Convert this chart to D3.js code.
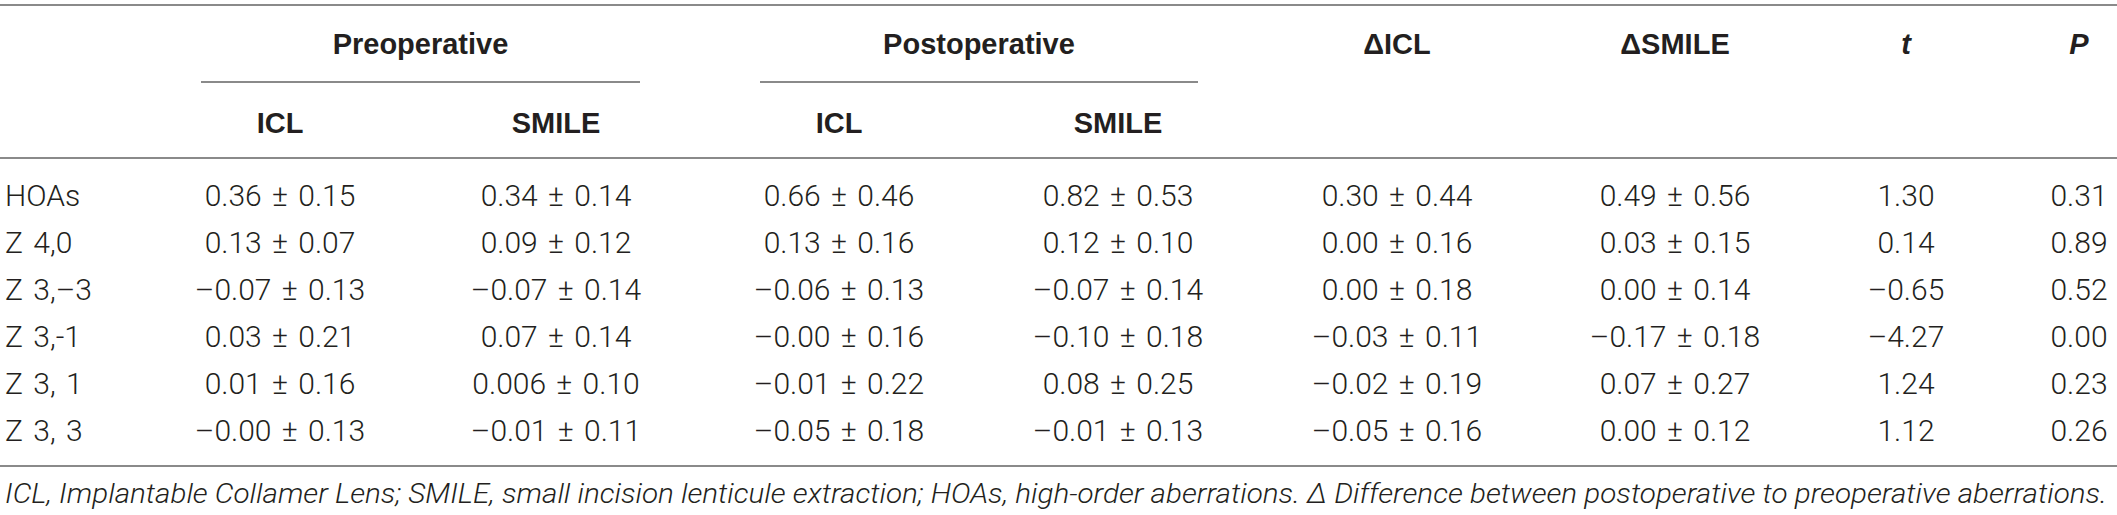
<!DOCTYPE html>
<html>
<head>
<meta charset="utf-8">
<script src="https://cdnjs.cloudflare.com/ajax/libs/d3/7.8.5/d3.min.js"></script>
<style>
  body { margin: 0; background: #fff; }
  svg { display: block; }
</style>
</head>
<body>
<div class="chart"></div>
<script>
// table contents
const rowLabels = ["HOAs", "Z 4,0", "Z 3,\u20133", "Z 3,-1", "Z 3, 1", "Z 3, 3"];
const preICL    = ["0.36 \u00b1 0.15", "0.13 \u00b1 0.07", "\u20130.07 \u00b1 0.13", "0.03 \u00b1 0.21", "0.01 \u00b1 0.16", "\u20130.00 \u00b1 0.13"];
const preSMILE  = ["0.34 \u00b1 0.14", "0.09 \u00b1 0.12", "\u20130.07 \u00b1 0.14", "0.07 \u00b1 0.14", "0.006 \u00b1 0.10", "\u20130.01 \u00b1 0.11"];
const postICL   = ["0.66 \u00b1 0.46", "0.13 \u00b1 0.16", "\u20130.06 \u00b1 0.13", "\u20130.00 \u00b1 0.16", "\u20130.01 \u00b1 0.22", "\u20130.05 \u00b1 0.18"];
const postSMILE = ["0.82 \u00b1 0.53", "0.12 \u00b1 0.10", "\u20130.07 \u00b1 0.14", "\u20130.10 \u00b1 0.18", "0.08 \u00b1 0.25", "\u20130.01 \u00b1 0.13"];
const dICL      = ["0.30 \u00b1 0.44", "0.00 \u00b1 0.16", "0.00 \u00b1 0.18", "\u20130.03 \u00b1 0.11", "\u20130.02 \u00b1 0.19", "\u20130.05 \u00b1 0.16"];
const dSMILE    = ["0.49 \u00b1 0.56", "0.03 \u00b1 0.15", "0.00 \u00b1 0.14", "\u20130.17 \u00b1 0.18", "0.07 \u00b1 0.27", "0.00 \u00b1 0.12"];
const tVals     = ["1.30", "0.14", "\u20130.65", "\u20134.27", "1.24", "1.12"];
const pVals     = ["0.31", "0.89", "0.52", "0.00", "0.23", "0.26"];

const columns = ["preICL", "preSMILE", "postICL", "postSMILE", "dICL", "dSMILE", "t", "P"];
const topHeaders = [
  { col: "dICL", text: "\u0394ICL" },
  { col: "dSMILE", text: "\u0394SMILE" },
  { col: "t", text: "t", italic: true },
  { col: "P", text: "P", italic: true }
];
const subHeaders = ["ICL", "SMILE", "ICL", "SMILE"];
const groups = ["Preoperative", "Postoperative"];
const footnote = "ICL, Implantable Collamer Lens; SMILE, small incision lenticule extraction; HOAs, high-order aberrations. \u0394 Difference between postoperative to preoperative aberrations.";

const cells = { preICL, preSMILE, postICL, postSMILE, dICL, dSMILE, t: tVals, P: pVals };

let dims = { width: 2117, height: 515 };
const ink = "#231f20";
const ruleColor = "#8a8a8a";
const bodyFont = "Roboto, 'Liberation Sans', sans-serif";
const headFont = "'Liberation Sans', Arial, sans-serif";

let svg = d3.select(".chart")
  .append("svg")
  .attr("width", dims.width)
  .attr("height", dims.height);

// column centres and row positions
let x = d3.scaleOrdinal()
  .domain(columns)
  .range([280, 556, 839, 1118, 1397, 1675, 1906, 2079]);

let y = d3.scalePoint()
  .domain(rowLabels)
  .range([195, 430]);

let groupSpan = d3.scaleOrdinal()
  .domain(groups)
  .range([[201, 640], [760, 1198]]);

// horizontal rules
let rules = svg.append("g").attr("class", "rules")
  .attr("stroke", ruleColor)
  .attr("stroke-width", 2);

[5, 158, 466].forEach(ry => {
  rules.append("line")
    .attr("x1", 0).attr("x2", dims.width)
    .attr("y1", ry).attr("y2", ry);
});

rules.selectAll(".group-rule")
  .data(groups)
  .join("line")
  .attr("class", "group-rule")
  .attr("x1", d => groupSpan(d)[0])
  .attr("x2", d => groupSpan(d)[1])
  .attr("y1", 82).attr("y2", 82);

// header texts
let head = svg.append("g").attr("class", "header")
  .style("font-family", headFont)
  .style("font-weight", 700)
  .style("font-size", "29px")
  .attr("fill", ink)
  .attr("text-anchor", "middle");

head.selectAll(".group")
  .data(groups)
  .join("text")
  .attr("class", "group")
  .attr("x", d => (groupSpan(d)[0] + groupSpan(d)[1]) / 2)
  .attr("y", 54)
  .text(d => d);

head.selectAll(".top")
  .data(topHeaders)
  .join("text")
  .attr("class", "top")
  .attr("x", d => x(d.col))
  .attr("y", 54)
  .style("font-style", d => d.italic ? "italic" : "normal")
  .text(d => d.text);

head.selectAll(".sub")
  .data(subHeaders)
  .join("text")
  .attr("class", "sub")
  .attr("x", (d, i) => x(columns[i]))
  .attr("y", 133)
  .text(d => d);

// body
let body = svg.append("g").attr("class", "body")
  .style("font-family", bodyFont)
  .style("font-weight", 300)
  .style("font-size", "30px")
  .style("word-spacing", "3px")
  .attr("fill", ink);

body.selectAll(".row-label")
  .data(rowLabels)
  .join("text")
  .attr("class", "row-label")
  .attr("x", 5)
  .attr("y", d => y(d))
  .attr("dy", "0.36em")
  .text(d => d);

let cellData = [];
rowLabels.forEach((r, i) => {
  columns.forEach(c => cellData.push({ row: r, col: c, text: cells[c][i] }));
});

body.selectAll(".cell")
  .data(cellData)
  .join("text")
  .attr("class", "cell")
  .attr("x", d => x(d.col))
  .attr("y", d => y(d.row))
  .attr("dy", "0.36em")
  .attr("text-anchor", "middle")
  .text(d => d.text);

// footnote
svg.append("text")
  .attr("x", 5)
  .attr("y", 503)
  .style("font-family", bodyFont)
  .style("font-weight", 300)
  .style("font-style", "italic")
  .style("font-size", "27px")
  .attr("fill", ink)
  .attr("textLength", 2102)
  .attr("lengthAdjust", "spacingAndGlyphs")
  .text(footnote);
</script>
</body>
</html>
